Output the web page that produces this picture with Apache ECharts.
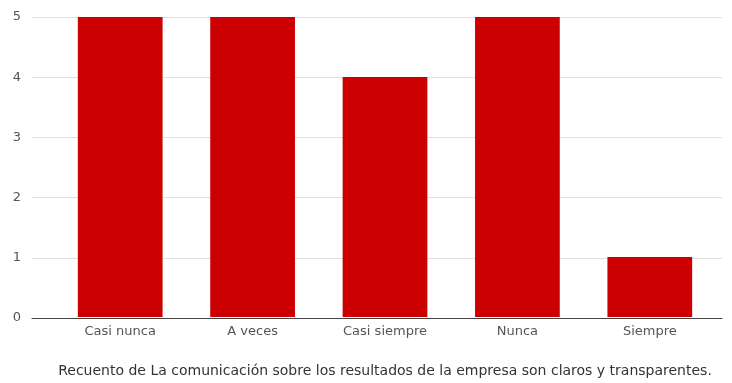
<!DOCTYPE html>
<html>
<head>
<meta charset="utf-8">
<script src="https://cdn.jsdelivr.net/npm/echarts@6/dist/echarts.min.js"></script>
<style>
  html, body { margin: 0; padding: 0; background: #fff; }
  #chart { width: 732px; height: 383px; }
</style>
</head>
<body>
<div id="chart"></div>
<script>
// Response categories and their counts
const categories = ['Casi nunca', 'A veces', 'Casi siempre', 'Nunca', 'Siempre'];
const counts = [5, 5, 4, 5, 1];
const yTicks = [0, 1, 2, 3, 4, 5];
const axisTitle = 'Recuento de La comunicación sobre los resultados de la empresa son claros y transparentes.';

const chart = echarts.init(document.getElementById('chart'));
const FONT = '"DejaVu Sans", Verdana, sans-serif';

chart.setOption({
  animation: false,
  grid: [
    // background grid: gridlines, value labels and baseline
    { left: 32, right: 10, top: 17, bottom: 65 },
    // bar area
    { left: 54, right: 16, top: 17, bottom: 65 }
  ],
  xAxis: [
    {
      gridIndex: 0, type: 'value', min: 0, max: 1,
      axisLine: { show: true, onZero: true, lineStyle: { color: '#444', width: 1 } },
      axisTick: { show: false }, axisLabel: { show: false }, splitLine: { show: false }
    },
    {
      gridIndex: 1, type: 'category', data: categories,
      axisLine: { show: false }, axisTick: { show: false },
      axisLabel: { color: '#555', fontFamily: FONT, fontSize: 13, margin: 8 },
      name: axisTitle, nameLocation: 'middle', nameGap: 47,
      nameTextStyle: { color: '#333', fontFamily: FONT, fontSize: 14 }
    }
  ],
  yAxis: [
    {
      gridIndex: 0, type: 'value', min: yTicks[0], max: yTicks[yTicks.length - 1], interval: 1,
      axisLine: { show: false }, axisTick: { show: false },
      axisLabel: { color: '#555', fontFamily: FONT, fontSize: 13, margin: 11 },
      splitLine: { lineStyle: { color: '#e0e0e0', width: 1 } }
    },
    {
      gridIndex: 1, type: 'value', min: yTicks[0], max: yTicks[yTicks.length - 1],
      show: false, splitLine: { show: false }
    }
  ],
  series: [
    {
      type: 'bar', xAxisIndex: 1, yAxisIndex: 1,
      data: counts, barWidth: '64%',
      itemStyle: { color: '#cc0000' }
    }
  ]
});
</script>
</body>
</html>
